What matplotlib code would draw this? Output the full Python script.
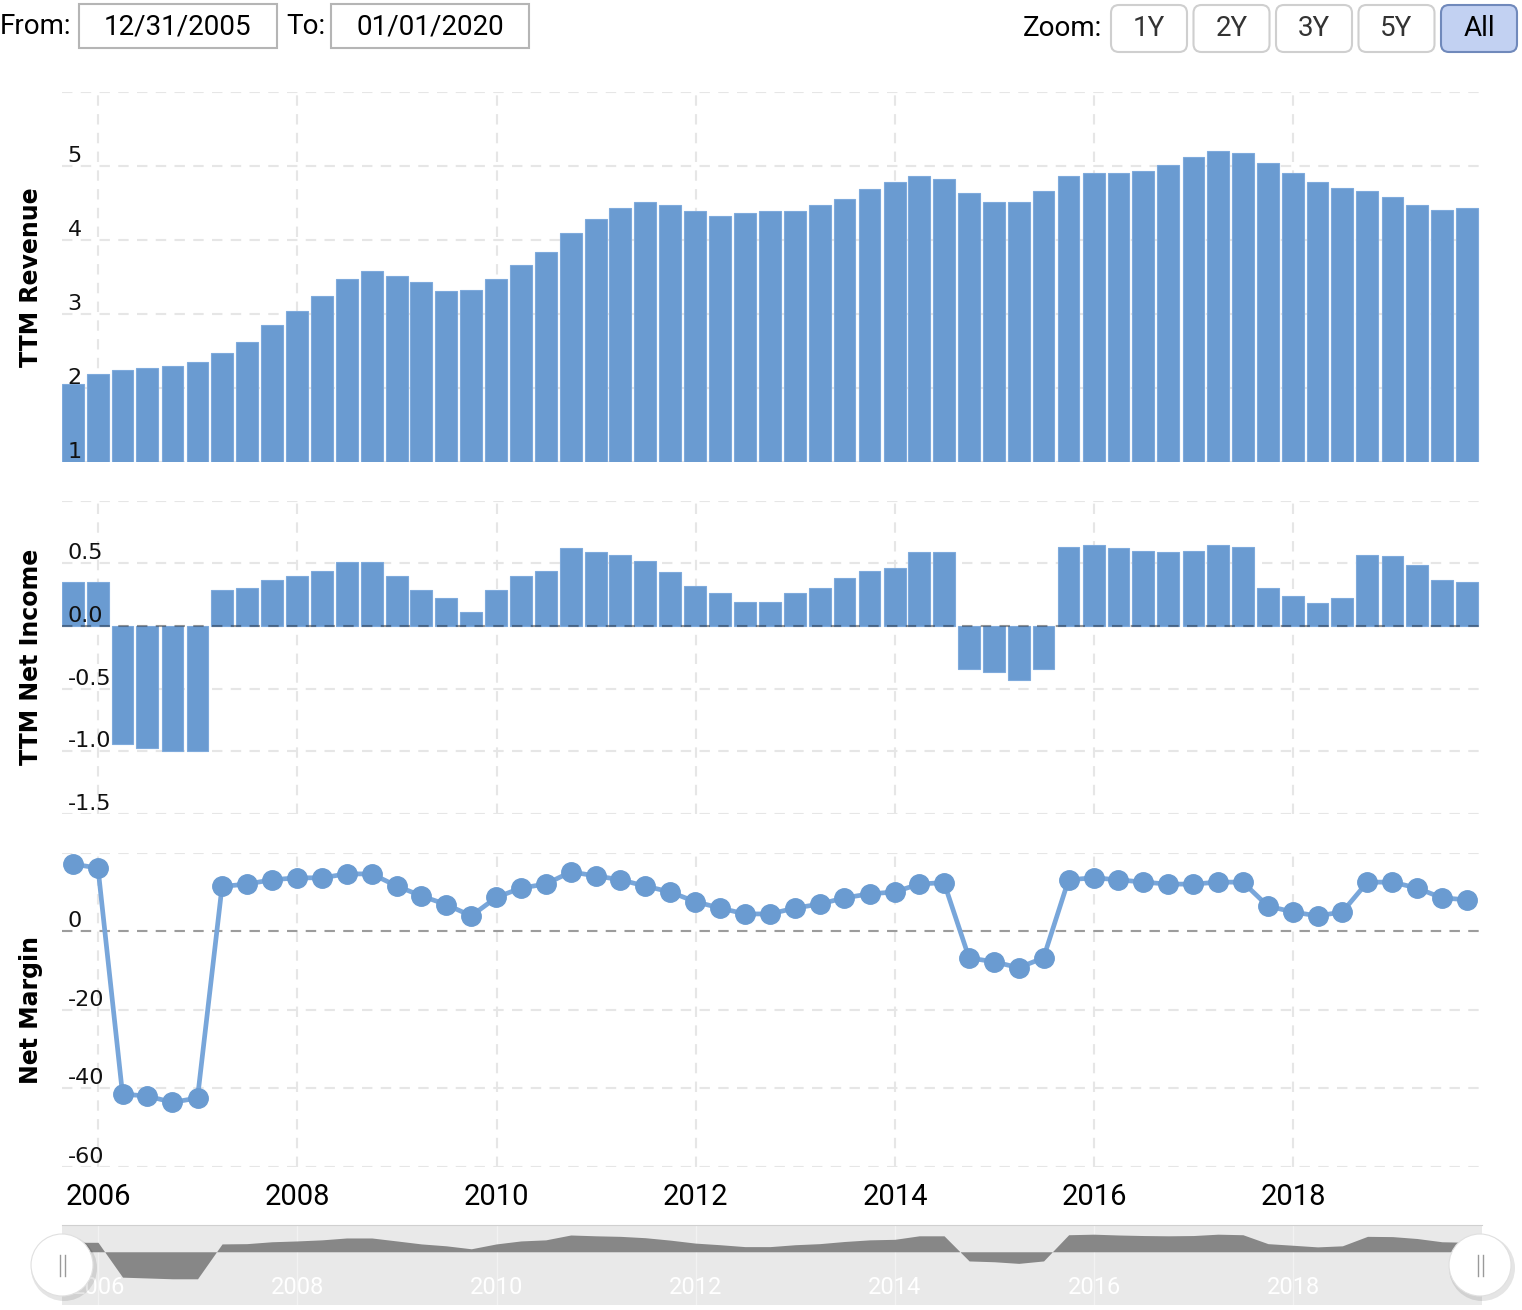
import matplotlib
matplotlib.use("Agg")
import matplotlib.pyplot as plt
import matplotlib.dates as mdates
import matplotlib.transforms as mtransforms
from matplotlib.patches import Rectangle, FancyBboxPatch, Ellipse
import pandas as pd

# quarter end dates, Q3 2005 .. Q3 2019
quarters = pd.period_range("2005Q3", "2019Q3", freq="Q")
dates = quarters.end_time.normalize()

# TTM revenue (bn)
ttm_revenue = [2.06, 2.19, 2.25, 2.28, 2.30, 2.36, 2.47, 2.63, 2.85, 3.04,
               3.25, 3.47, 3.58, 3.52, 3.44, 3.31, 3.33, 3.47, 3.66, 3.84,
               4.09, 4.28, 4.44, 4.52, 4.47, 4.39, 4.33, 4.36, 4.39, 4.39,
               4.47, 4.55, 4.69, 4.79, 4.87, 4.82, 4.63, 4.52, 4.52, 4.66,
               4.87, 4.90, 4.90, 4.93, 5.01, 5.12, 5.20, 5.17, 5.04, 4.90,
               4.79, 4.71, 4.66, 4.58, 4.47, 4.41, 4.44]

# TTM net income (bn)
ttm_net_income = [0.35, 0.35, -0.94, -0.97, -1.00, -1.00, 0.29, 0.30, 0.37, 0.40,
                  0.44, 0.51, 0.51, 0.40, 0.29, 0.22, 0.11, 0.29, 0.40, 0.44,
                  0.62, 0.59, 0.57, 0.52, 0.43, 0.32, 0.26, 0.19, 0.19, 0.26,
                  0.30, 0.38, 0.44, 0.46, 0.59, 0.59, -0.34, -0.37, -0.43, -0.34,
                  0.63, 0.65, 0.62, 0.60, 0.59, 0.60, 0.65, 0.63, 0.30, 0.24,
                  0.18, 0.22, 0.57, 0.56, 0.49, 0.37, 0.35]

# net margin (%)
net_margin = [17.1, 16.1, -41.5, -42.0, -43.6, -42.5, 11.4, 12.0, 13.1, 13.6,
              13.6, 14.6, 14.6, 11.5, 9.0, 6.8, 3.9, 8.6, 11.0, 12.0,
              15.1, 14.1, 13.1, 11.5, 10.0, 7.5, 5.9, 4.4, 4.4, 5.9,
              6.9, 8.5, 9.5, 10.0, 12.0, 12.4, -6.8, -7.8, -9.3, -6.8,
              13.1, 13.6, 13.1, 12.5, 12.0, 12.0, 12.5, 12.5, 6.4, 4.9,
              3.9, 4.9, 12.5, 12.5, 11.0, 8.5, 8.0]

year_ticks = [2006, 2008, 2010, 2012, 2014, 2016, 2018]
rev_ticks = [1, 2, 3, 4, 5, 6]
ni_ticks = [-1.5, -1.0, -0.5, 0.0, 0.5, 1.0]
nm_ticks = [-60, -40, -20, 0, 20]
zoom_buttons = ["1Y", "2Y", "3Y", "5Y", "All"]
from_date = "12/31/2005"
to_date = "01/01/2020"

BAR = "#6a9bd1"
GRID = "#e6e6e6"
DASH = (0, (5, 4))
W, H = 1522, 1310


def px_rect(l, t, r, b):
    return [l / W, 1 - b / H, (r - l) / W, (b - t) / H]


fig = plt.figure(figsize=(W / 100, H / 100), dpi=100)

x = mdates.date2num(dates.to_pydatetime())
xt = [mdates.date2num(pd.Timestamp(f"{y}-01-01")) for y in year_ticks]
xlim = (x[0] - 40, x[-1] + 48)

ax1 = fig.add_axes(px_rect(62, 92, 1480, 462.3))
ax2 = fig.add_axes(px_rect(62, 500.7, 1480, 814))
ax3 = fig.add_axes(px_rect(62, 852.7, 1480, 1166.7))
nav = fig.add_axes(px_rect(62, 1225, 1482, 1305))

panels = [(ax1, rev_ticks, "TTM Revenue", lambda v: f"{v:g}"),
          (ax2, ni_ticks, "TTM Net Income", lambda v: f"{v:.1f}"),
          (ax3, nm_ticks, "Net Margin", lambda v: f"{v:g}")]

for ax, ticks, title, fmt in panels:
    ax.set_xlim(xlim)
    ax.set_ylim(ticks[0], ticks[-1])
    ax.set_yticks(ticks)
    ax.set_xticks(xt)
    ax.grid(True, color=GRID, lw=1.5, ls=DASH)
    ax.set_axisbelow(True)
    for s in ax.spines.values():
        s.set_visible(False)
    ax.tick_params(length=0, labelleft=False, labelbottom=False)
    # value labels inside the plot, just above the gridline
    tr = mtransforms.offset_copy(ax.get_yaxis_transform(), fig=fig, y=3, units="points")
    for v in ticks[:-1]:
        ax.text(0.004, v, fmt(v), transform=tr, ha="left", va="baseline",
                fontsize=16, color="#111111", zorder=5)
    ax.set_ylabel(title, fontsize=17, fontweight="bold", color="black")
    ax.yaxis.set_label_coords(-0.0135, 0.5)

ax1.bar(x, ttm_revenue, width=80, color=BAR, edgecolor="#7eaadc", linewidth=0.8)
ax2.bar(x, ttm_net_income, width=80, color=BAR, edgecolor="#7eaadc", linewidth=0.8)
ax2.axhline(0, color="black", alpha=0.35, lw=1.5, ls=DASH, zorder=3)
ax3.axhline(0, color="black", alpha=0.32, lw=1.5, ls=DASH, zorder=1.5)
ax3.plot(x, net_margin, color="#78a6da", lw=3.4, marker="o", ms=14,
         mfc=BAR, mec=BAR, zorder=3)

ax3.tick_params(labelbottom=True, pad=12)
ax3.set_xticks(xt, [str(y) for y in year_ticks], fontsize=21, fontfamily="Roboto")

# navigator (net income series)
nav.set_facecolor("#e9e9e9")
nav.set_xlim(xlim[0], xlim[1] + 7)
nav.set_ylim(-1.97, 0.99)
nav.fill_between(x, ttm_net_income, 0, color="#878787", lw=0)
nav.set_yticks([])
nav.set_xticks(xt, [str(y) for y in year_ticks], fontsize=17, fontfamily="Roboto", color="white")
nav.tick_params(axis="x", length=0, pad=-21)
nav.xaxis.grid(True, color="#f2f2f2", lw=1)
nav.set_axisbelow(True)
for k, s in nav.spines.items():
    s.set_visible(k == "top")
nav.spines["top"].set_color("#d0d0d0")

# header controls and navigator handles
ui = fig.add_axes([0, 0, 1, 1], zorder=10)
ui.set_xlim(0, W)
ui.set_ylim(H, 0)
ui.axis("off")
ui.patch.set_alpha(0)

hfont = dict(fontsize=20, fontfamily="Roboto", va="center", color="black")
ui.text(0, 27, "From:", ha="left", **hfont)
ui.add_patch(Rectangle((79, 4), 198, 44, facecolor="white", edgecolor="#b5b5b5", lw=1.5))
ui.text(178, 27, from_date, ha="center", **hfont)
ui.text(286, 27, "To:", ha="left", **hfont)
ui.add_patch(Rectangle((331, 4), 198, 44, facecolor="white", edgecolor="#b5b5b5", lw=1.5))
ui.text(430, 27, to_date, ha="center", **hfont)
ui.text(1102, 28, "Zoom:", ha="right", **hfont)

for i, lab in enumerate(zoom_buttons):
    x0 = 1111 + 82.5 * i
    active = lab == "All"
    ui.add_patch(FancyBboxPatch((x0, 5), 76, 47, boxstyle="round,pad=0,rounding_size=8",
                                facecolor="#c2d1f2" if active else "white",
                                edgecolor="#7089bb" if active else "#cfcfcf", lw=1.5))
    ui.text(x0 + 38, 28.5, lab, ha="center", fontsize=20, fontfamily="Roboto",
            va="center", color="black" if active else "#333333")

for cx in (62, 1480):
    ui.add_patch(Ellipse((cx + 2, 1268), 66, 66, facecolor="black", alpha=0.10, lw=0))
    ui.add_patch(Ellipse((cx, 1265), 62, 62, facecolor="white", edgecolor="#e0e0e0", lw=0.8))
    for dx in (-2.5, 2.5):
        ui.plot([cx + dx, cx + dx], [1255, 1276], color="#9a9a9a", lw=1)

fig.savefig("out.png", dpi=100)
